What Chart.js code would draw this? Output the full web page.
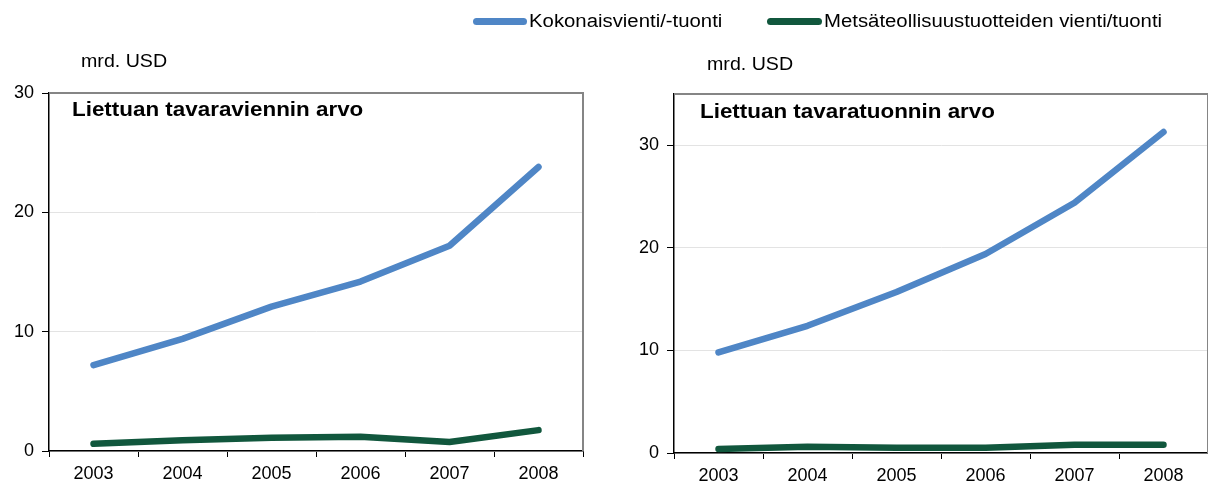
<!DOCTYPE html>
<html>
<head>
<meta charset="utf-8">
<script src="https://cdn.jsdelivr.net/npm/chart.js@4.4.1/dist/chart.umd.min.js"></script>
<style>
  html, body { margin: 0; padding: 0; background: #fff; }
  body { width: 1208px; height: 489px; position: relative; overflow: hidden;
         font-family: "Liberation Sans", Arial, sans-serif; color: #000; }
  .box { position: absolute; top: 0; height: 489px; width: 604px; }
  .txt { position: absolute; white-space: nowrap; transform-origin: left center; }
  .unit { font-size: 18px; transform: scaleX(1.09); }
  .title { font-size: 20px; font-weight: bold; transform: scaleX(1.12); }
  .leg { font-size: 18px; transform: scaleX(1.13); }
  .swatch { position: absolute; height: 7px; border-radius: 3.5px; }
</style>
</head>
<body>
<div class="box" style="left:0"><canvas id="exportChart"></canvas></div>
<div class="box" style="left:604px"><canvas id="importChart"></canvas></div>

<div class="swatch" style="left:473px; top:18px; width:54px; background:#4f86c6"></div>
<div class="txt leg" style="left:529px; top:11px">Kokonaisvienti/-tuonti</div>
<div class="swatch" style="left:767px; top:18px; width:55px; background:#11573d"></div>
<div class="txt leg" style="left:824px; top:11px">Metsäteollisuustuotteiden vienti/tuonti</div>

<div class="txt unit" style="left:81px; top:51px">mrd. USD</div>
<div class="txt unit" style="left:707px; top:54px">mrd. USD</div>
<div class="txt title" style="left:72px; top:98px">Liettuan tavaraviennin arvo</div>
<div class="txt title" style="left:700px; top:100px">Liettuan tavaratuonnin arvo</div>

<script>
    "use strict";

    const years = ["2003", "2004", "2005", "2006", "2007", "2008"];
    const exportTotal = [7.2, 9.4, 12.1, 14.2, 17.2, 23.8];
    const exportForest = [0.6, 0.9, 1.1, 1.2, 0.75, 1.75];
    const importTotal = [9.8, 12.4, 15.7, 19.4, 24.4, 31.3];
    const importForest = [0.4, 0.6, 0.5, 0.5, 0.8, 0.8];
    const yTicks = [0, 10, 20, 30];

    const blue = "#4f86c6";
    const green = "#11573d";
    const font = { family: "'Liberation Sans', Arial, sans-serif", size: 18 };

    // grey frame on top and right of plot area
    const framePlugin = {
        id: "frame",
        afterDraw(chart) {
            const a = chart.chartArea;
            const ctx = chart.ctx;
            ctx.save();
            ctx.strokeStyle = "#858585";
            ctx.lineWidth = 2;
            ctx.beginPath();
            ctx.moveTo(a.left, a.top);
            ctx.lineTo(a.right, a.top);
            ctx.lineTo(a.right, a.bottom);
            ctx.stroke();
            ctx.restore();
        },
    };

    function makeChart(id, total, forest, yMax, yWidth, padTop, padRight, xHeight) {
        const ctx = document.getElementById(id).getContext("2d");
        return new Chart(ctx, {
            type: "line",
            data: {
                labels: years,
                datasets: [
                    {
                        data: total,
                        borderColor: blue,
                        borderWidth: 6.5,
                        borderCapStyle: "round",
                        borderJoinStyle: "round",
                        pointRadius: 0,
                    },
                    {
                        data: forest,
                        borderColor: green,
                        borderWidth: 6.5,
                        borderCapStyle: "round",
                        borderJoinStyle: "round",
                        pointRadius: 0,
                    },
                ],
            },
            options: {
                responsive: true,
                maintainAspectRatio: false,
                animation: false,
                layout: { padding: { top: padTop, right: padRight, left: 0, bottom: 0 } },
                plugins: {
                    legend: { display: false },
                    tooltip: { enabled: false },
                },
                scales: {
                    x: {
                        offset: true,
                        ticks: { color: "#000", font: font, padding: 6, maxRotation: 0 },
                        grid: {
                            offset: true,
                            drawOnChartArea: false,
                            tickLength: 6,
                            tickColor: "#000",
                        },
                        border: { color: "#000", width: 1.5 },
                        afterFit(scale) {
                            scale.height = xHeight;
                        },
                    },
                    y: {
                        min: 0,
                        max: yMax,
                        ticks: { stepSize: 10, color: "#000", font: font, padding: 8 },
                        afterBuildTicks(scale) {
                            scale.ticks = yTicks.map((v) => ({ value: v }));
                        },
                        grid: {
                            color: "#e3e3e3",
                            tickLength: 7,
                            tickColor: "#000",
                        },
                        border: { color: "#000", width: 1.5 },
                        afterFit(scale) {
                            scale.width = yWidth;
                        },
                    },
                },
            },
            plugins: [framePlugin],
        });
    }

    makeChart("exportChart", exportTotal, exportForest, 30, 49, 93, 21, 38);
    makeChart("importChart", importTotal, importForest, 35, 70, 94, 0, 36);
</script>
</body>
</html>
